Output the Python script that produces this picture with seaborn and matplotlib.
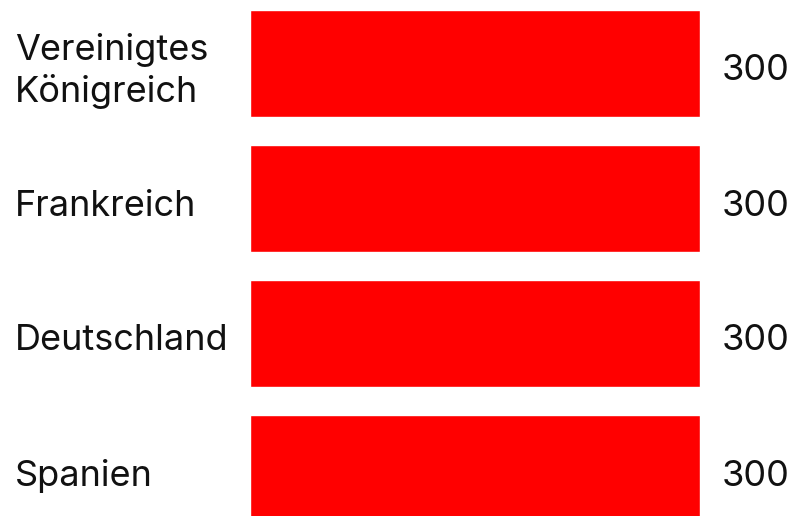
import matplotlib
matplotlib.use("Agg")
import matplotlib.pyplot as plt
import matplotlib.transforms as mtransforms
import seaborn as sns
import pandas as pd

countries = ["Vereinigtes\nKönigreich", "Frankreich", "Deutschland", "Spanien"]
values = [300, 300, 300, 300]
value_labels = ["300", "300", "300", "300"]

sns.set_theme(style="white")
plt.rcParams["font.family"] = ["Inter", "DejaVu Sans"]

df = pd.DataFrame({"country": countries, "value": values})

fig = plt.figure(figsize=(8.0, 5.16), dpi=100)
ax = fig.add_axes([250 / 800, 0.0, 450 / 800, 1.0])

sns.barplot(data=df, y="country", x="value", orient="h", color="#ff0000",
            saturation=1, width=107 / 135, ax=ax)

ax.set_xlim(0, 300)
ax.set_ylim((516 - 63.5) / 135, -63.5 / 135)
ax.set_xlabel("")
ax.set_ylabel("")
ax.set_xticks([])
ax.set_yticks([])
for s in ax.spines.values():
    s.set_visible(False)

trans = mtransforms.blended_transform_factory(fig.transFigure, ax.transData)
off = 7.5 / 135
for i, (c, lab) in enumerate(zip(countries, value_labels)):
    fig.text(15 / 800, i + off, c, transform=trans, ha="left", va="center",
             fontsize=26, color="#111111", linespacing=1.22)
    fig.text(722 / 800, i + off, lab, transform=trans, ha="left", va="center",
             fontsize=26, color="#111111")

fig.savefig("out.png", dpi=100)
